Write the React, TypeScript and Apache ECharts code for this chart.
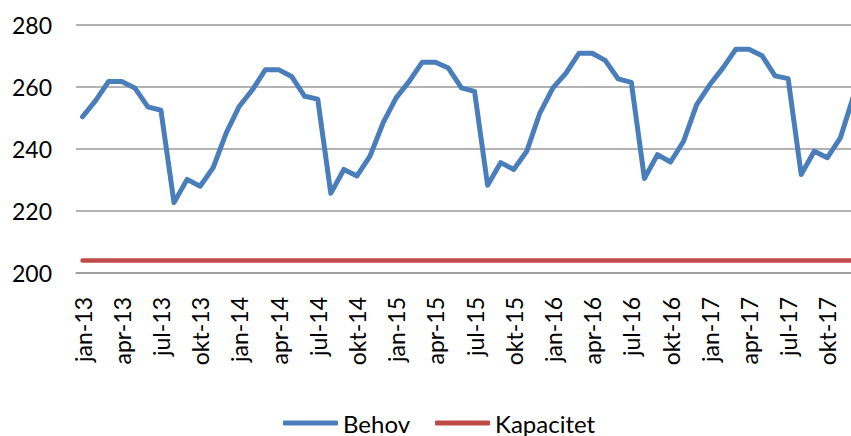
import React, { useEffect, useRef } from "react";
import * as echarts from "echarts";

const monthNames = ["jan", "feb", "mar", "apr", "mai", "jun", "jul", "aug", "sep", "okt", "nov", "des"];
const years = ["13", "14", "15", "16", "17"];
const categories: string[] = [];
years.forEach((y) => monthNames.forEach((m) => categories.push(`${m}-${y}`)));

const behov = [
  250.4, 255.6, 261.8, 261.8, 259.7, 253.6, 252.5, 222.7, 230.2, 228.0, 234.0, 245.2,
  253.8, 259.1, 265.6, 265.6, 263.4, 257.0, 256.1, 225.7, 233.4, 231.3, 237.7, 248.4,
  256.5, 261.8, 268.0, 268.0, 266.1, 259.7, 258.6, 228.3, 235.6, 233.4, 239.3, 251.6,
  259.7, 264.5, 270.9, 270.9, 268.6, 262.6, 261.5, 230.5, 238.2, 235.8, 242.5, 254.3,
  260.7, 266.1, 272.2, 272.2, 270.1, 263.6, 262.7, 231.8, 239.3, 237.2, 243.6, 257.0,
];
const kapacitet = categories.map(() => 204);

const yTicks = { min: 200, max: 280, interval: 20 };

export default function App() {
  const ref = useRef<HTMLDivElement>(null);
  useEffect(() => {
    if (!ref.current) return;
    const chart = echarts.init(ref.current, null, { renderer: "svg" });
    const font = "Lato, 'Open Sans', sans-serif";
    chart.setOption({
      animation: false,
      grid: { left: 76, top: 25, bottom: 163, right: 0, containLabel: false },
      xAxis: {
        type: "category",
        data: categories,
        boundaryGap: true,
        axisLine: { show: true, lineStyle: { color: "#9a9a9a", width: 1.5 } },
        axisTick: { show: false },
        axisLabel: {
          interval: 2,
          rotate: 90,
          margin: 24,
          color: "#000",
          fontSize: 23,
          fontFamily: font,
        },
        splitLine: { show: false },
      },
      yAxis: {
        type: "value",
        min: yTicks.min,
        max: yTicks.max,
        interval: yTicks.interval,
        axisLine: { show: false },
        axisTick: { show: false },
        axisLabel: { color: "#000", fontSize: 23, fontFamily: font, margin: 24 },
        splitLine: { show: true, lineStyle: { color: "#9a9a9a", width: 1.5 } },
      },
      legend: {
        top: 411,
        left: 283,
        padding: 0,
        itemWidth: 55,
        itemHeight: 5,
        itemGap: 25,
        icon: "roundRect",
        textStyle: { color: "#000", fontSize: 24, fontFamily: font, lineHeight: 24 },
        data: ["Behov", "Kapacitet"],
      },
      series: [
        {
          name: "Behov",
          type: "line",
          data: behov,
          symbol: "none",
          showSymbol: false,
          itemStyle: { color: "#4a7ebb" },
          lineStyle: { color: "#4a7ebb", width: 5, cap: "round", join: "round" },
          z: 3,
        },
        {
          name: "Kapacitet",
          type: "line",
          data: kapacitet,
          symbol: "none",
          showSymbol: false,
          itemStyle: { color: "#be4b48" },
          lineStyle: { color: "#be4b48", width: 4.5, cap: "round" },
          z: 2,
        },
      ],
    });
    return () => chart.dispose();
  }, []);
  return (
    <div
      style={{ position: "fixed", left: 0, top: 0, width: 851, height: 436, overflow: "hidden", background: "#fff" }}
    >
      <div ref={ref} style={{ width: 860, height: 436 }} />
    </div>
  );
}
